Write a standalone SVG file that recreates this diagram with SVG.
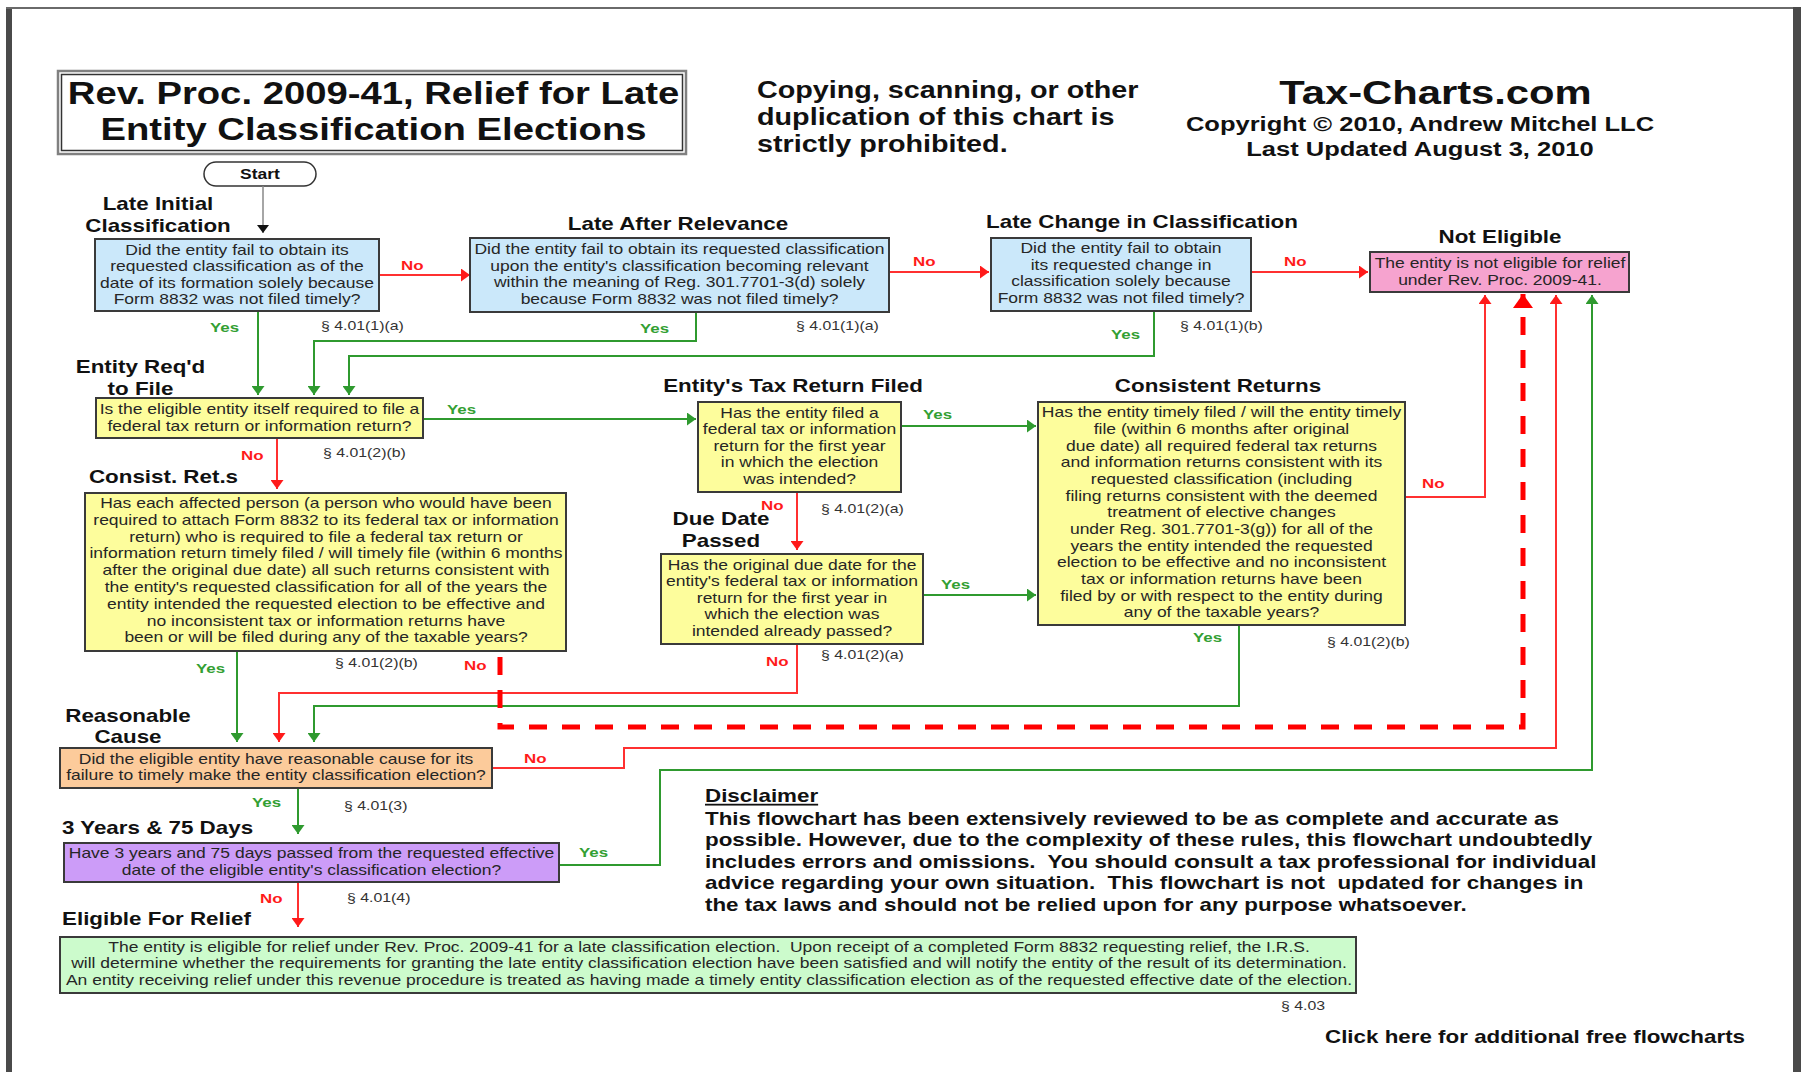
<svg xmlns="http://www.w3.org/2000/svg" width="1801" height="1072" viewBox="0 0 1801 1072">
<style>
text{font-family:"Liberation Sans",Arial,Helvetica,sans-serif}
.bx{font-size:14px;fill:#262626;text-anchor:middle}
.lb{font-size:17.9px;font-weight:bold;fill:#111;text-anchor:middle}
.lbs{font-size:17.9px;font-weight:bold;fill:#111}
.yes{font-size:13.5px;font-weight:bold;fill:#33a033}
.no{font-size:13.5px;font-weight:bold;fill:#ff1a1a}
.sec{font-size:12.7px;fill:#333}
.box{stroke:#3a3a3a;stroke-width:2}
.blue{fill:#cbe8fa}.yel{fill:#fdfd9c}.pink{fill:#f6a3cf}.ora{fill:#fccb9b}.pur{fill:#cc9cf8}.grn{fill:#ccfbcc}
.g{fill:none;stroke:#2f9a2f;stroke-width:2}
.r{fill:none;stroke:#ff3030;stroke-width:2}
</style>
<defs>
<marker id="ag" markerUnits="userSpaceOnUse" markerWidth="9" markerHeight="13" viewBox="0 0 9 13" refX="9" refY="6.5" orient="auto"><path d="M0,0 L9,6.5 L0,13 z" fill="#2f9a2f"/></marker>
<marker id="ar" markerUnits="userSpaceOnUse" markerWidth="9" markerHeight="13" viewBox="0 0 9 13" refX="9" refY="6.5" orient="auto"><path d="M0,0 L9,6.5 L0,13 z" fill="#ff1a1a"/></marker>
<marker id="ak" markerUnits="userSpaceOnUse" markerWidth="8" markerHeight="12" viewBox="0 0 8 12" refX="8" refY="6" orient="auto"><path d="M0,0 L8,6 L0,12 z" fill="#111"/></marker>
<marker id="arb" markerUnits="userSpaceOnUse" markerWidth="14" markerHeight="20" viewBox="0 0 14 20" refX="14" refY="10" orient="auto"><path d="M0,0 L14,10 L0,20 z" fill="#ff0000"/></marker>
</defs>
<rect width="1801" height="1072" fill="#fff"/>
<g id="frame">
<rect x="6" y="7" width="6" height="1065" fill="#4a4a4a"/>
<rect x="6" y="7" width="1790" height="2" fill="#6a6a6a"/>
<rect x="1793" y="7" width="8" height="1065" fill="#4a4a4a"/>
</g>

<g id="title">
<rect x="58" y="71" width="628" height="83" fill="#fff" stroke="#808080" stroke-width="2.5"/>
<rect x="61.5" y="74.5" width="621" height="76" fill="none" stroke="#333" stroke-width="1.5"/>
<g transform="translate(373.5 0) scale(1.25 1)">
<text x="0" y="104.5" style="font-size:30.6px;font-weight:bold;text-anchor:middle;fill:#111">Rev. Proc. 2009-41, Relief for Late</text>
<text x="0" y="140" style="font-size:30.6px;font-weight:bold;text-anchor:middle;fill:#111">Entity Classification Elections</text>
</g>
</g>

<g id="notice" transform="translate(757 0) scale(1.25 1)">
<text x="0" y="98" style="font-size:23px;font-weight:bold;fill:#111">Copying, scanning, or other</text>
<text x="0" y="125" style="font-size:23px;font-weight:bold;fill:#111">duplication of this chart is</text>
<text x="0" y="152" style="font-size:23px;font-weight:bold;fill:#111">strictly prohibited.</text>
</g>

<g id="brand">
<g transform="translate(1435.5 0) scale(1.25 1)"><text x="0" y="104" style="font-size:33.4px;font-weight:bold;text-anchor:middle;fill:#111">Tax-Charts.com</text></g>
<g transform="translate(1420 0) scale(1.25 1)">
<text x="0" y="131" style="font-size:20.4px;font-weight:bold;text-anchor:middle;fill:#111">Copyright &#169; 2010, Andrew Mitchel LLC</text>
<text x="0" y="156" style="font-size:20.4px;font-weight:bold;text-anchor:middle;fill:#111">Last Updated August 3, 2010</text>
</g>
</g>

<g id="start">
<rect x="204" y="162" width="112" height="24" rx="12" fill="#fff" stroke="#333" stroke-width="1.5"/>
<g transform="translate(260 0) scale(1.25 1)"><text x="0" y="179" style="font-size:14px;font-weight:bold;text-anchor:middle;fill:#111">Start</text></g>
</g>

<g id="connectors">
<path d="M263,186 V233" fill="none" stroke="#888" stroke-width="1.5" marker-end="url(#ak)"/>
<path class="r" d="M380,275 H470" marker-end="url(#ar)"/>
<path class="r" d="M889,272 H989" marker-end="url(#ar)"/>
<path class="r" d="M1251,272 H1368" marker-end="url(#ar)"/>
<path class="g" d="M258,311 V395" marker-end="url(#ag)"/>
<path class="g" d="M696,312 V341 H314 V395" marker-end="url(#ag)"/>
<path class="g" d="M1154,311 V356 H349 V395" marker-end="url(#ag)"/>
<path class="g" d="M422,419 H696" marker-end="url(#ag)"/>
<path class="r" d="M277,438 V489" marker-end="url(#ar)"/>
<path class="g" d="M901,426 H1036" marker-end="url(#ag)"/>
<path class="r" d="M797,492 V550" marker-end="url(#ar)"/>
<path class="g" d="M923,595 H1036" marker-end="url(#ag)"/>
<path class="r" d="M1405,497 H1485 V295" marker-end="url(#ar)"/>
<path class="g" d="M1239,625 V706 H314 V742" marker-end="url(#ag)"/>
<path class="r" d="M797,644 V693 H279 V742" marker-end="url(#ar)"/>
<path class="g" d="M237,651 V742" marker-end="url(#ag)"/>
<path d="M500,657 V727 H1523 V294" fill="none" stroke="#ff0000" stroke-width="5" stroke-dasharray="18 15" marker-end="url(#arb)"/>
<path class="r" d="M492,768 H624 V748 H1556 V295" marker-end="url(#ar)"/>
<path class="g" d="M559,865 H660 V770 H1592 V295" marker-end="url(#ag)"/>
<path class="g" d="M298,788 V834" marker-end="url(#ag)"/>
<path class="r" d="M298,882 V927" marker-end="url(#ar)"/>
</g>

<g id="edge-labels">
<g transform="translate(401 0) scale(1.25 1)"><text class="no" x="0" y="270">No</text></g>
<g transform="translate(913 0) scale(1.25 1)"><text class="no" x="0" y="266">No</text></g>
<g transform="translate(1284 0) scale(1.25 1)"><text class="no" x="0" y="266">No</text></g>
<g transform="translate(210 0) scale(1.25 1)"><text class="yes" x="0" y="332">Yes</text></g>
<g transform="translate(640 0) scale(1.25 1)"><text class="yes" x="0" y="333">Yes</text></g>
<g transform="translate(1111 0) scale(1.25 1)"><text class="yes" x="0" y="339">Yes</text></g>
<g transform="translate(447 0) scale(1.25 1)"><text class="yes" x="0" y="414">Yes</text></g>
<g transform="translate(241 0) scale(1.25 1)"><text class="no" x="0" y="460">No</text></g>
<g transform="translate(923 0) scale(1.25 1)"><text class="yes" x="0" y="419">Yes</text></g>
<g transform="translate(761 0) scale(1.25 1)"><text class="no" x="0" y="510">No</text></g>
<g transform="translate(941 0) scale(1.25 1)"><text class="yes" x="0" y="589">Yes</text></g>
<g transform="translate(766 0) scale(1.25 1)"><text class="no" x="0" y="666">No</text></g>
<g transform="translate(1422 0) scale(1.25 1)"><text class="no" x="0" y="488">No</text></g>
<g transform="translate(1193 0) scale(1.25 1)"><text class="yes" x="0" y="642">Yes</text></g>
<g transform="translate(196 0) scale(1.25 1)"><text class="yes" x="0" y="673">Yes</text></g>
<g transform="translate(464 0) scale(1.25 1)"><text class="no" x="0" y="670">No</text></g>
<g transform="translate(524 0) scale(1.25 1)"><text class="no" x="0" y="763">No</text></g>
<g transform="translate(252 0) scale(1.25 1)"><text class="yes" x="0" y="807">Yes</text></g>
<g transform="translate(579 0) scale(1.25 1)"><text class="yes" x="0" y="857">Yes</text></g>
<g transform="translate(260 0) scale(1.25 1)"><text class="no" x="0" y="903">No</text></g>
</g>

<g id="sections">
<g transform="translate(321 0) scale(1.25 1)"><text class="sec" x="0" y="330">&#167; 4.01(1)(a)</text></g>
<g transform="translate(796 0) scale(1.25 1)"><text class="sec" x="0" y="330">&#167; 4.01(1)(a)</text></g>
<g transform="translate(1180 0) scale(1.25 1)"><text class="sec" x="0" y="330">&#167; 4.01(1)(b)</text></g>
<g transform="translate(323 0) scale(1.25 1)"><text class="sec" x="0" y="457">&#167; 4.01(2)(b)</text></g>
<g transform="translate(821 0) scale(1.25 1)"><text class="sec" x="0" y="513">&#167; 4.01(2)(a)</text></g>
<g transform="translate(821 0) scale(1.25 1)"><text class="sec" x="0" y="659">&#167; 4.01(2)(a)</text></g>
<g transform="translate(335 0) scale(1.25 1)"><text class="sec" x="0" y="667">&#167; 4.01(2)(b)</text></g>
<g transform="translate(1327 0) scale(1.25 1)"><text class="sec" x="0" y="646">&#167; 4.01(2)(b)</text></g>
<g transform="translate(344 0) scale(1.25 1)"><text class="sec" x="0" y="810">&#167; 4.01(3)</text></g>
<g transform="translate(347 0) scale(1.25 1)"><text class="sec" x="0" y="902">&#167; 4.01(4)</text></g>
<g transform="translate(1281 0) scale(1.25 1)"><text class="sec" x="0" y="1010">&#167; 4.03</text></g>
</g>

<g id="late-initial">
<g transform="translate(158 0) scale(1.25 1)"><text class="lb" x="0" y="210">Late Initial</text><text class="lb" x="0" y="232">Classification</text></g>
<rect class="box blue" x="95" y="239" width="284" height="72"/>
<g transform="translate(237 0) scale(1.25 1)">
<text class="bx" x="0" y="255">Did the entity fail to obtain its</text>
<text class="bx" x="0" y="271.3">requested classification as of the</text>
<text class="bx" x="0" y="287.7">date of its formation solely because</text>
<text class="bx" x="0" y="304">Form 8832 was not filed timely?</text>
</g>
</g>

<g id="late-after-relevance">
<g transform="translate(678 0) scale(1.25 1)"><text class="lb" x="0" y="230">Late After Relevance</text></g>
<rect class="box blue" x="470" y="238" width="419" height="74"/>
<g transform="translate(679.5 0) scale(1.25 1)">
<text class="bx" x="0" y="254.5">Did the entity fail to obtain its requested classification</text>
<text class="bx" x="0" y="271">upon the entity's classification becoming relevant</text>
<text class="bx" x="0" y="287.5">within the meaning of Reg. 301.7701-3(d) solely</text>
<text class="bx" x="0" y="304">because Form 8832 was not filed timely?</text>
</g>
</g>

<g id="late-change">
<g transform="translate(1142 0) scale(1.25 1)"><text class="lb" x="0" y="228">Late Change in Classification</text></g>
<rect class="box blue" x="991" y="238" width="260" height="73"/>
<g transform="translate(1121 0) scale(1.25 1)">
<text class="bx" x="0" y="253.5">Did the entity fail to obtain</text>
<text class="bx" x="0" y="270">its requested change in</text>
<text class="bx" x="0" y="286.5">classification solely because</text>
<text class="bx" x="0" y="303">Form 8832 was not filed timely?</text>
</g>
</g>

<g id="not-eligible">
<g transform="translate(1500 0) scale(1.25 1)"><text class="lb" x="0" y="243">Not Eligible</text></g>
<rect class="box pink" x="1370" y="252" width="259" height="40"/>
<g transform="translate(1500 0) scale(1.25 1)">
<text class="bx" x="0" y="268.5">The entity is not eligible for relief</text>
<text class="bx" x="0" y="285">under Rev. Proc. 2009-41.</text>
</g>
</g>

<g id="entity-reqd">
<g transform="translate(140.5 0) scale(1.25 1)"><text class="lb" x="0" y="373">Entity Req'd</text><text class="lb" x="0" y="395">to File</text></g>
<rect class="box yel" x="96" y="398" width="327" height="40"/>
<g transform="translate(259.5 0) scale(1.25 1)">
<text class="bx" x="0" y="414">Is the eligible entity itself required to file a</text>
<text class="bx" x="0" y="431">federal tax return or information return?</text>
</g>
</g>

<g id="tax-return-filed">
<g transform="translate(793 0) scale(1.25 1)"><text class="lb" x="0" y="392">Entity's Tax Return Filed</text></g>
<rect class="box yel" x="698" y="402" width="203" height="90"/>
<g transform="translate(799.5 0) scale(1.25 1)">
<text class="bx" x="0" y="418">Has the entity filed a</text>
<text class="bx" x="0" y="434.5">federal tax or information</text>
<text class="bx" x="0" y="451">return for the first year</text>
<text class="bx" x="0" y="467.5">in which the election</text>
<text class="bx" x="0" y="484">was intended?</text>
</g>
</g>

<g id="consistent-returns">
<g transform="translate(1218 0) scale(1.25 1)"><text class="lb" x="0" y="392">Consistent Returns</text></g>
<rect class="box yel" x="1038" y="402" width="367" height="223"/>
<g transform="translate(1221.5 0) scale(1.25 1)">
<text class="bx" x="0" y="417.3">Has the entity timely filed / will the entity timely</text>
<text class="bx" x="0" y="434">file (within 6 months after original</text>
<text class="bx" x="0" y="450.6">due date) all required federal tax returns</text>
<text class="bx" x="0" y="467.3">and information returns consistent with its</text>
<text class="bx" x="0" y="484">requested classification (including</text>
<text class="bx" x="0" y="500.6">filing returns consistent with the deemed</text>
<text class="bx" x="0" y="517.3">treatment of elective changes</text>
<text class="bx" x="0" y="534">under Reg. 301.7701-3(g)) for all of the</text>
<text class="bx" x="0" y="550.6">years the entity intended the requested</text>
<text class="bx" x="0" y="567.3">election to be effective and no inconsistent</text>
<text class="bx" x="0" y="584">tax or information returns have been</text>
<text class="bx" x="0" y="600.6">filed by or with respect to the entity during</text>
<text class="bx" x="0" y="617.3">any of the taxable years?</text>
</g>
</g>

<g id="consist-rets">
<g transform="translate(163.5 0) scale(1.25 1)"><text class="lb" x="0" y="483">Consist. Ret.s</text></g>
<rect class="box yel" x="85" y="493" width="481" height="158"/>
<g transform="translate(326 0) scale(1.25 1)">
<text class="bx" x="0" y="508">Has each affected person (a person who would have been</text>
<text class="bx" x="0" y="524.8">required to attach Form 8832 to its federal tax or information</text>
<text class="bx" x="0" y="541.6">return) who is required to file a federal tax return or</text>
<text class="bx" x="0" y="558.4">information return timely filed / will timely file (within 6 months</text>
<text class="bx" x="0" y="575.2">after the original due date) all such returns consistent with</text>
<text class="bx" x="0" y="592">the entity's requested classification for all of the years the</text>
<text class="bx" x="0" y="608.8">entity intended the requested election to be effective and</text>
<text class="bx" x="0" y="625.6">no inconsistent tax or information returns have</text>
<text class="bx" x="0" y="642.4">been or will be filed during any of the taxable years?</text>
</g>
</g>

<g id="due-date-passed">
<g transform="translate(721 0) scale(1.25 1)"><text class="lb" x="0" y="525">Due Date</text><text class="lb" x="0" y="547">Passed</text></g>
<rect class="box yel" x="661" y="554" width="262" height="90"/>
<g transform="translate(792 0) scale(1.25 1)">
<text class="bx" x="0" y="570">Has the original due date for the</text>
<text class="bx" x="0" y="586.5">entity's federal tax or information</text>
<text class="bx" x="0" y="603">return for the first year in</text>
<text class="bx" x="0" y="619.5">which the election was</text>
<text class="bx" x="0" y="636">intended already passed?</text>
</g>
</g>

<g id="reasonable-cause">
<g transform="translate(128 0) scale(1.25 1)"><text class="lb" x="0" y="722">Reasonable</text><text class="lb" x="0" y="743">Cause</text></g>
<rect class="box ora" x="60" y="748" width="432" height="40"/>
<g transform="translate(276 0) scale(1.25 1)">
<text class="bx" x="0" y="764">Did the eligible entity have reasonable cause for its</text>
<text class="bx" x="0" y="780">failure to timely make the entity classification election?</text>
</g>
</g>

<g id="three-years">
<g transform="translate(62 0) scale(1.25 1)"><text class="lbs" x="0" y="834">3 Years &amp; 75 Days</text></g>
<rect class="box pur" x="64" y="843" width="495" height="39"/>
<g transform="translate(311.5 0) scale(1.25 1)">
<text class="bx" x="0" y="858.5">Have 3 years and 75 days passed from the requested effective</text>
<text class="bx" x="0" y="875">date of the eligible entity's classification election?</text>
</g>
</g>

<g id="eligible">
<g transform="translate(62 0) scale(1.25 1)"><text class="lbs" x="0" y="925">Eligible For Relief</text></g>
<rect class="box grn" x="60" y="937" width="1296" height="56"/>
<g transform="translate(709 0) scale(1.25 1)">
<text class="bx" x="0" y="952" xml:space="preserve">The entity is eligible for relief under Rev. Proc. 2009-41 for a late classification election.  Upon receipt of a completed Form 8832 requesting relief, the I.R.S.</text>
<text class="bx" x="0" y="968.5">will determine whether the requirements for granting the late entity classification election have been satisfied and will notify the entity of the result of its determination.</text>
<text class="bx" x="0" y="985">An entity receiving relief under this revenue procedure is treated as having made a timely entity classification election as of the requested effective date of the election.</text>
</g>
</g>

<g id="disclaimer" transform="translate(705 0) scale(1.25 1)">
<text class="lbs" x="0" y="802" text-decoration="underline">Disclaimer</text>
<text class="lbs" x="0" y="825">This flowchart has been extensively reviewed to be as complete and accurate as</text>
<text class="lbs" x="0" y="846.5">possible. However, due to the complexity of these rules, this flowchart undoubtedly</text>
<text class="lbs" x="0" y="868" xml:space="preserve">includes errors and omissions.  You should consult a tax professional for individual</text>
<text class="lbs" x="0" y="889.5" xml:space="preserve">advice regarding your own situation.  This flowchart is not  updated for changes in</text>
<text class="lbs" x="0" y="911">the tax laws and should not be relied upon for any purpose whatsoever.</text>
</g>

<g id="more-link" transform="translate(1325 0) scale(1.25 1)">
<text class="lbs" x="0" y="1043">Click here for additional free flowcharts</text>
</g>
</svg>
